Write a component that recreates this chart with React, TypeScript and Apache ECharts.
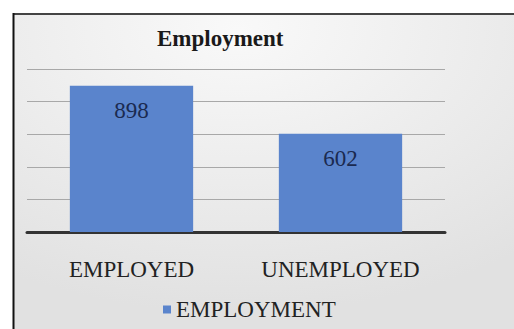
import React, { useEffect, useRef } from "react";
import * as echarts from "echarts";

const categories = ["EMPLOYED", "UNEMPLOYED"];
const employment = [898, 602];
const seriesName = "EMPLOYMENT";
const titleText = "Employment";

export default function App() {
  const ref = useRef<HTMLDivElement>(null);
  useEffect(() => {
    const chart = echarts.init(ref.current!, null, { renderer: "svg" });
    const serif = "Liberation Serif";
    chart.setOption({
      animation: false,
      backgroundColor: "#ffffff",
      graphic: [
        {
          type: "rect",
          z: -10,
          silent: true,
          shape: { x: 13, y: 13, width: 501, height: 316 },
          style: {
            fill: new echarts.graphic.RadialGradient(0.45, 0.05, 0.9, [
              { offset: 0, color: "#f9f9f9" },
              { offset: 1, color: "#e1e1e1" },
            ]),
          },
        },
        {
          type: "line",
          z: -5,
          silent: true,
          shape: { x1: 13, y1: 14, x2: 514, y2: 14 },
          style: { stroke: "#444444", lineWidth: 2 },
        },
        {
          type: "line",
          z: -5,
          silent: true,
          shape: { x1: 13.5, y1: 13, x2: 13.5, y2: 329 },
          style: { stroke: "#111111", lineWidth: 2 },
        },
      ],
      title: {
        text: titleText,
        left: 157,
        top: 27,
        padding: 0,
        textStyle: {
          fontFamily: serif,
          fontWeight: "bold",
          fontSize: 23,
          color: "#1a1a1a",
        },
      },
      legend: {
        data: [seriesName],
        left: 163,
        top: 298,
        padding: 0,
        itemWidth: 8,
        itemHeight: 8,
        icon: "rect",
        textStyle: { fontFamily: serif, fontSize: 23, color: "#222222" },
      },
      grid: { left: 27, right: 69, top: 69, bottom: 97 },
      xAxis: {
        type: "category",
        data: categories,
        axisLine: { lineStyle: { color: "#333333", width: 3 } },
        axisTick: { show: false },
        axisLabel: {
          fontFamily: serif,
          fontSize: 23,
          color: "#222222",
          margin: 26,
        },
      },
      yAxis: {
        type: "value",
        min: 0,
        max: 1000,
        interval: 200,
        axisLabel: { show: false },
        axisLine: { show: false },
        axisTick: { show: false },
        splitLine: { lineStyle: { color: "#a8a8a8", width: 1 } },
      },
      series: [
        {
          name: seriesName,
          type: "bar",
          data: employment,
          barCategoryGap: "41%",
          itemStyle: { color: "#5a84cc" },
          label: {
            show: true,
            position: "insideTop",
            distance: 13,
            fontFamily: serif,
            fontSize: 23,
            color: "#1a2a50",
          },
        },
      ],
    });
    return () => chart.dispose();
  }, []);
  return (
    <div
      ref={ref}
      style={{ position: "fixed", left: 0, top: 0, width: 514, height: 329 }}
    />
  );
}
